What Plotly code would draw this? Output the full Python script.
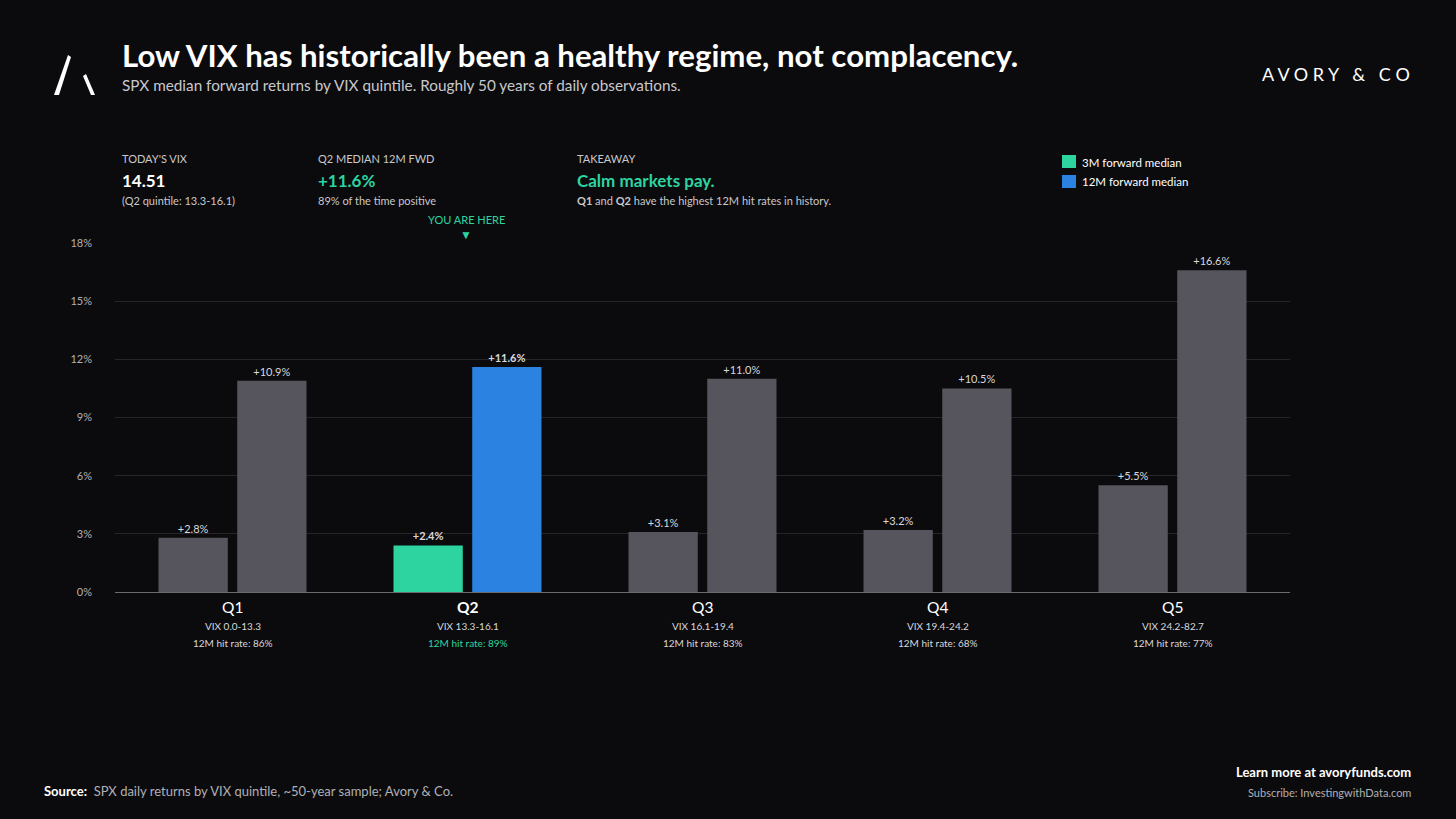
import plotly.graph_objects as go

quintiles = ["Q1", "Q2", "Q3", "Q4", "Q5"]
vix_ranges = ["VIX 0.0-13.3", "VIX 13.3-16.1", "VIX 16.1-19.4", "VIX 19.4-24.2", "VIX 24.2-82.7"]
hit_rates = [86, 89, 83, 68, 77]
fwd_3m = [2.8, 2.4, 3.1, 3.2, 5.5]
fwd_12m = [10.9, 11.6, 11.0, 10.5, 16.6]
y_ticks = [0, 3, 6, 9, 12, 15, 18]
current = "Q2"

BG = "#0b0b0d"; GRAY = "#56555d"; GREEN = "#2dd4a0"; BLUE = "#2b82e0"
F = "Lato, Noto Sans, sans-serif"

c3 = [GREEN if q == current else GRAY for q in quintiles]
c12 = [BLUE if q == current else GRAY for q in quintiles]
def lbl(vals):
    return [f"<b>+{v:.1f}%</b>" if q == current else f"+{v:.1f}%" for q, v in zip(quintiles, vals)]

fig = go.Figure()
fig.add_bar(x=quintiles, y=fwd_3m, marker_color=c3, marker_line_width=0, text=lbl(fwd_3m),
            textposition="outside", textfont=dict(color="#d8d8dc", size=11, family=F), cliponaxis=False)
fig.add_bar(x=quintiles, y=fwd_12m, marker_color=c12, marker_line_width=0, text=lbl(fwd_12m),
            textposition="outside", textfont=dict(color="#d8d8dc", size=11, family=F), cliponaxis=False)

fig.update_layout(
    width=1456, height=819, paper_bgcolor=BG, plot_bgcolor=BG, showlegend=False,
    margin=dict(l=115, r=166, t=243, b=227), barmode="group", bargap=0.33, bargroupgap=0.12,
    font=dict(family=F, color="#ffffff"),
    xaxis=dict(showticklabels=False, showgrid=False, showline=True, linecolor="#6a6a70", linewidth=1),
    yaxis=dict(range=[0, 18], tickvals=y_ticks, ticktext=[f"{t}%" for t in y_ticks],
               gridcolor="#26262a", zeroline=False, tickfont=dict(size=11, color="#b0b0b5"),
               ticks="", ticklabelstandoff=22),
)

ann = []
def A(x, y, text, size, color="#ffffff", xanchor="left", xref="paper", yref="paper", yanchor="middle"):
    ann.append(dict(x=x, y=y, xref=xref, yref=yref, text=text, showarrow=False,
                    font=dict(size=size, color=color, family=F), xanchor=xanchor, yanchor=yanchor))

def px(xp): return (xp - 115) / 1175
def py(yp): return (819 - 227 - yp) / 349

A(px(120), py(55), "<b>Low VIX has historically been a healthy regime, not complacency.</b>", 31.2)
A(px(120), py(85), "SPX median forward returns by VIX quintile. Roughly 50 years of daily observations.", 15.3, "#c8c8cc")
A(px(1412), py(74), "A V O R Y   &   C O", 18, "#ffffff", "right")

A(px(120), py(158), "TODAY'S VIX", 11, "#c8c8cc")
A(px(120), py(181), "<b>14.51</b>", 17)
A(px(120), py(200), "(Q2 quintile: 13.3-16.1)", 11, "#c8c8cc")
A(px(316), py(158), "Q2 MEDIAN 12M FWD", 11, "#c8c8cc")
A(px(316), py(181), "<b>+11.6%</b>", 17, GREEN)
A(px(316), py(200), "89% of the time positive", 11, "#c8c8cc")
A(px(575), py(158), "TAKEAWAY", 11, "#c8c8cc")
A(px(575), py(181), "<b>Calm markets pay.</b>", 17, GREEN)
A(px(575), py(200), "<b>Q1</b> and <b>Q2</b> have the highest 12M hit rates in history.", 11, "#c8c8cc")
A(px(466), py(220), "YOU ARE HERE", 11, GREEN, "center")
A(px(466), py(234), "▼", 12, GREEN, "center")

A(px(1080), py(162), "3M forward median", 11.5)
A(px(1080), py(182), "12M forward median", 11.5)

for i, q in enumerate(quintiles):
    cur = q == current
    A(q, py(607), f"<b>{q}</b>" if cur else q, 15.5, "#ffffff", "center", xref="x")
    A(q, py(626), vix_ranges[i], 10, "#d8d8dc", "center", xref="x")
    A(q, py(643), f"12M hit rate: {hit_rates[i]}%", 10, GREEN if cur else "#d8d8dc", "center", xref="x")

A(px(42), py(791), "<b>Source:</b>  <span style='color:#b0b0b5'>SPX daily returns by VIX quintile, ~50-year sample; Avory & Co.</span>", 13)
A(px(1413), py(772), "<b>Learn more at avoryfunds.com</b>", 13, "#ffffff", "right")
A(px(1413), py(792), "Subscribe: InvestingwithData.com", 11, "#b0b0b5", "right")
fig.update_layout(annotations=ann)

shapes = [
    dict(type="rect", xref="paper", yref="paper", x0=px(1062), x1=px(1076), y0=py(168), y1=py(155), fillcolor=GREEN, line_width=0),
    dict(type="rect", xref="paper", yref="paper", x0=px(1062), x1=px(1076), y0=py(188), y1=py(175), fillcolor=BLUE, line_width=0),
    dict(type="path", xref="paper", yref="paper",
         path=f"M {px(54)},{py(95)} L {px(68)},{py(55)} L {px(71)},{py(57)} L {px(59)},{py(95)} Z",
         fillcolor="white", line_width=0),
    dict(type="path", xref="paper", yref="paper",
         path=f"M {px(83)},{py(76)} L {px(86)},{py(74)} L {px(95)},{py(95)} L {px(91)},{py(95)} Z",
         fillcolor="white", line_width=0),
]
fig.update_layout(shapes=shapes)
fig.write_html("out.html", config={"displayModeBar": False},
               post_script="document.body.style.margin='0';document.body.style.background='#0b0b0d';")
